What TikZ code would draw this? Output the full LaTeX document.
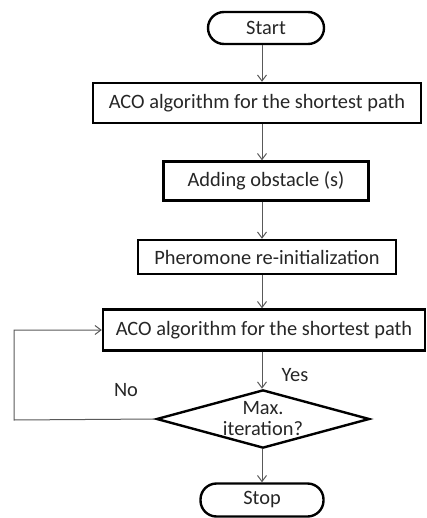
\documentclass[tikz,border=0pt]{standalone}
\usepackage{fontspec}
\setmainfont{Carlito}
\usetikzlibrary{shapes.geometric,arrows.meta}

\begin{document}
\begin{tikzpicture}[x=1pt, y=-1pt,
    txt/.style={font=\fontsize{20.4}{21}\selectfont, text=black!85},
    box/.style={rectangle, draw, line width=2.4pt, inner sep=0pt, txt},
    term/.style={box, rounded corners=16pt},
    line/.style={draw=black!65, line width=1pt, -{Straight Barb[length=6pt, width=9pt]}}]
    \useasboundingbox (0,0) rectangle (427,518);

    % Draw nodes
    \node[term, minimum width=116pt, minimum height=32pt] (start) at (266,28) {Start};
    \node[box, minimum width=328pt, minimum height=40pt] (aco) at (257,103) {ACO algorithm for the shortest path};
    \node[box, minimum width=205pt, minimum height=39pt] (obst) at (266,181) {Adding obstacle (s)};
    \node[box, minimum width=258pt, minimum height=34pt] (phero) at (267,257) {Pheromone re-initialization};
    \node[box, minimum width=322pt, minimum height=41pt] (aco2) at (264,330) {ACO algorithm for the shortest path};
    \node[diamond, draw, line width=2.4pt, inner sep=-14pt, minimum width=213pt, minimum height=54pt,
          align=center, txt] (max) at (263,419) {Max.\\iteration?};
    \node[term, minimum width=123pt, minimum height=33pt] (stop) at (262,500) {Stop};
    \node[txt] (yes) at (295,375) {Yes};
    \node[txt] (no) at (126,390) {No};
    \coordinate (axis) at (262,0);
    \coordinate (loop) at (14,420);

    % Draw edges
    \draw[line] (start.south -| axis) -- (aco.north -| axis);
    \draw[line] (aco.south -| axis) -- (obst.north -| axis);
    \draw[line] (obst.south -| axis) -- (phero.north -| axis);
    \draw[line] (phero.south -| axis) -- (aco2.north -| axis);
    \draw[line] (aco2.south -| axis) -- (max.north -| axis);
    \draw[line] (max.south -| axis) -- (stop.north -| axis);
    \draw[line] (max.west) -- (loop) |- (aco2.west);
\end{tikzpicture}
\end{document}
